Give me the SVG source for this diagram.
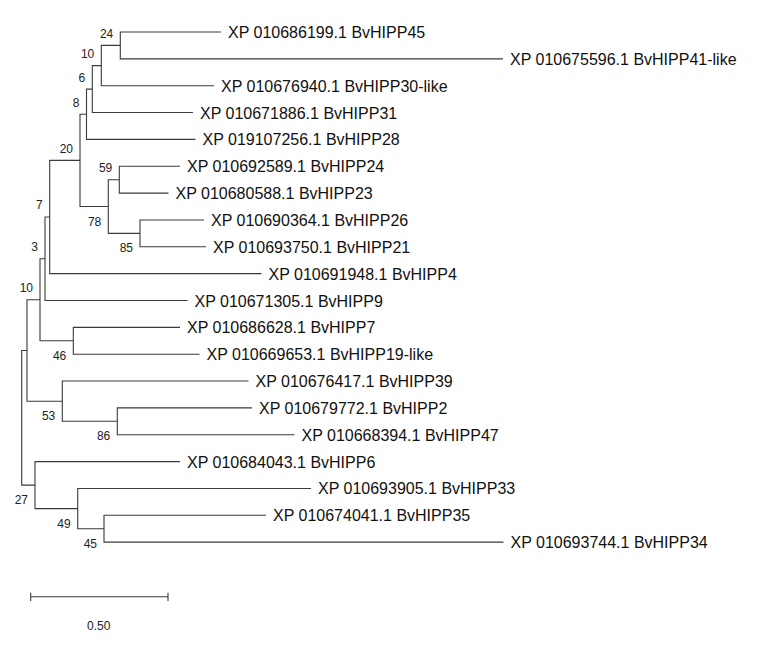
<svg xmlns="http://www.w3.org/2000/svg" width="784" height="652" viewBox="0 0 784 652">
<style>
.br{fill:none;stroke:#3a3a3a;stroke-width:1.1}
.lf{font-family:"Liberation Sans",Arial,sans-serif;font-size:16px;fill:#111}
.bs{font-family:"Liberation Sans",Arial,sans-serif;font-size:12px;fill:#222;text-anchor:end}
.sc{font-family:"Liberation Sans",Arial,sans-serif;font-size:12px;fill:#222;text-anchor:middle}
</style>
<rect width="784" height="652" fill="#fff"/>
<g id="connectors">
<path class="br" d="M221 32 H120.3 V58.85 H503"/>
<path class="br" d="M120.3 45.4 H101.3 V85.7 H214"/>
<path class="br" d="M101.3 65.6 H92.3 V112.55 H193"/>
<path class="br" d="M92.3 89.1 H86.5 V139.4 H195.5"/>
<path class="br" d="M180 166.25 H119.3 V193.1 H168.5"/>
<path class="br" d="M204 219.95 H140 V246.8 H206"/>
<path class="br" d="M119.3 179.7 H108.3 V233.4 H140"/>
<path class="br" d="M86.5 114.2 H80 V206.5 H108.3"/>
<path class="br" d="M80 160.4 H49.7 V273.65 H261.5"/>
<path class="br" d="M49.7 217 H45 V300.5 H187.5"/>
<path class="br" d="M180 327.35 H73.3 V354.2 H199.5"/>
<path class="br" d="M45 258.8 H40 V340.8 H73.3"/>
<path class="br" d="M252 407.9 H117.3 V434.75 H294.5"/>
<path class="br" d="M248.5 381.05 H62.3 V421.3 H117.3"/>
<path class="br" d="M40 299.8 H27 V401.2 H62.3"/>
<path class="br" d="M266 515.3 H104 V542.15 H503.5"/>
<path class="br" d="M311 488.45 H77.7 V528.7 H104"/>
<path class="br" d="M180 461.6 H35 V508.6 H77.7"/>
<path class="br" d="M27 350.5 H21.7 V485.1 H35"/>
</g>
<g id="leaf1"><text class="lf" x="228" y="38">XP 010686199.1 BvHIPP45</text></g>
<g id="leaf2"><text class="lf" x="510" y="64.85">XP 010675596.1 BvHIPP41-like</text></g>
<g id="leaf3"><text class="lf" x="221" y="91.7">XP 010676940.1 BvHIPP30-like</text></g>
<g id="leaf4"><text class="lf" x="200" y="118.55">XP 010671886.1 BvHIPP31</text></g>
<g id="leaf5"><text class="lf" x="202.5" y="145.4">XP 019107256.1 BvHIPP28</text></g>
<g id="leaf6"><text class="lf" x="187" y="172.25">XP 010692589.1 BvHIPP24</text></g>
<g id="leaf7"><text class="lf" x="175.5" y="199.1">XP 010680588.1 BvHIPP23</text></g>
<g id="leaf8"><text class="lf" x="211" y="225.95">XP 010690364.1 BvHIPP26</text></g>
<g id="leaf9"><text class="lf" x="213" y="252.8">XP 010693750.1 BvHIPP21</text></g>
<g id="leaf10"><text class="lf" x="268.5" y="279.65">XP 010691948.1 BvHIPP4</text></g>
<g id="leaf11"><text class="lf" x="194.5" y="306.5">XP 010671305.1 BvHIPP9</text></g>
<g id="leaf12"><text class="lf" x="187" y="333.35">XP 010686628.1 BvHIPP7</text></g>
<g id="leaf13"><text class="lf" x="206.5" y="360.2">XP 010669653.1 BvHIPP19-like</text></g>
<g id="leaf14"><text class="lf" x="255.5" y="387.05">XP 010676417.1 BvHIPP39</text></g>
<g id="leaf15"><text class="lf" x="259" y="413.9">XP 010679772.1 BvHIPP2</text></g>
<g id="leaf16"><text class="lf" x="301.5" y="440.75">XP 010668394.1 BvHIPP47</text></g>
<g id="leaf17"><text class="lf" x="187" y="467.6">XP 010684043.1 BvHIPP6</text></g>
<g id="leaf18"><text class="lf" x="318" y="494.45">XP 010693905.1 BvHIPP33</text></g>
<g id="leaf19"><text class="lf" x="273" y="521.3">XP 010674041.1 BvHIPP35</text></g>
<g id="leaf20"><text class="lf" x="510.5" y="548.15">XP 010693744.1 BvHIPP34</text></g>
<g id="n24"><text class="bs" x="113.3" y="37.9">24</text></g>
<g id="n10a"><text class="bs" x="94.3" y="58.1">10</text></g>
<g id="n6"><text class="bs" x="85.3" y="81.6">6</text></g>
<g id="n8"><text class="bs" x="79.5" y="106.7">8</text></g>
<g id="n59"><text class="bs" x="112.3" y="172.2">59</text></g>
<g id="n85"><text class="bs" x="133" y="252.4">85</text></g>
<g id="n78"><text class="bs" x="101.3" y="225.5">78</text></g>
<g id="n20"><text class="bs" x="73" y="152.9">20</text></g>
<g id="n7"><text class="bs" x="42.7" y="209">7</text></g>
<g id="n3"><text class="bs" x="38" y="251.3">3</text></g>
<g id="n46"><text class="bs" x="66.3" y="359.8">46</text></g>
<g id="n10b"><text class="bs" x="33" y="292.3">10</text></g>
<g id="n86"><text class="bs" x="110.3" y="440.3">86</text></g>
<g id="n53"><text class="bs" x="55.3" y="420.2">53</text></g>
<g id="n27"><text class="bs" x="28" y="504.1">27</text></g>
<g id="n49"><text class="bs" x="70.7" y="527.6">49</text></g>
<g id="n45"><text class="bs" x="97" y="547.7">45</text></g>
<g id="scalebar">
<path class="br" d="M30.7 596.7 H168 M30.7 592.7 V601 M168 592.7 V601"/>
<text class="sc" x="98.7" y="630">0.50</text>
</g>
</svg>
